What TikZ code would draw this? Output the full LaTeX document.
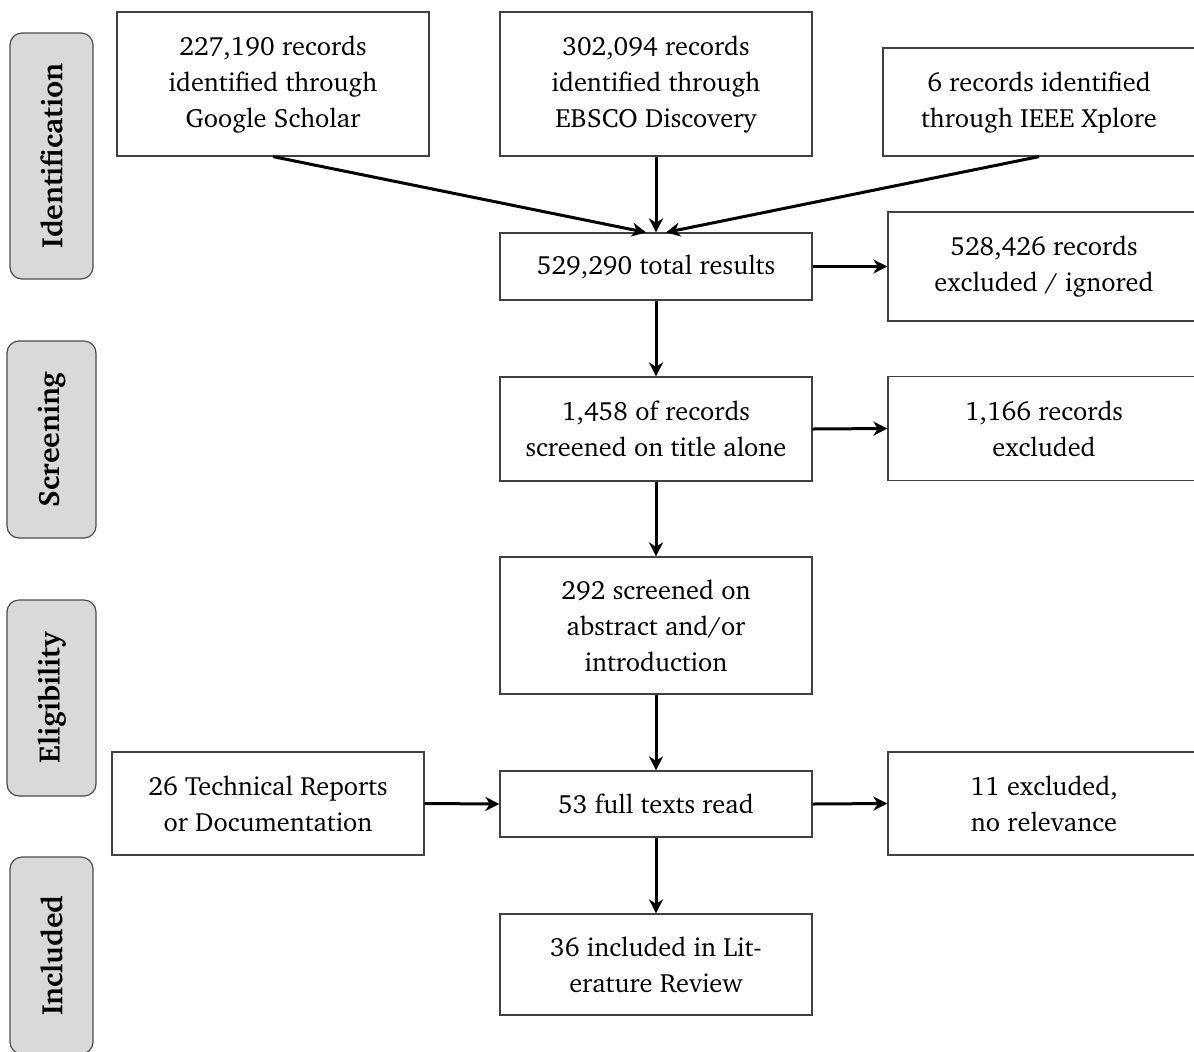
\documentclass[tikz,border=0pt]{standalone}
\usepackage[T1]{fontenc}
\renewcommand{\rmdefault}{bch}
\usetikzlibrary{arrows.meta}
\begin{document}
\begin{tikzpicture}[x=0.5pt,y=-0.5pt,
  every node/.style={font=\fontsize{13.2}{18}\selectfont},
  box/.style={draw=black!75, line width=0.6pt, fill=white, align=center,
    minimum width=156pt, inner sep=0pt},
  stage/.style={draw=black!70, line width=0.6pt, fill=black!15, rounded corners=6pt,
    rotate=90, font=\fontsize{14.8}{18}\selectfont\bfseries, inner sep=0pt},
  flow/.style={line width=1.5pt, -{Stealth[length=7pt,width=7pt,inset=2.2pt]}}]
\useasboundingbox (0,0) rectangle (1194,1051);

% stage labels
\node[stage, minimum width=123pt, minimum height=41.5pt] (sid) at (51.5,156) {Identification};
\node[stage, minimum width=98.5pt, minimum height=44.5pt] (ssc) at (51.5,439.5) {Screening};
\node[stage, minimum width=98pt, minimum height=44.5pt] (sel) at (51.5,698) {Eligibility};
\node[stage, minimum width=98.5pt, minimum height=41.5pt] (sin) at (51.5,955.5) {Included};

% flow boxes
\node[box, minimum height=72pt] (gs) at (273,84) {227,190 records\\identified through\\Google Scholar};
\node[box, minimum height=72pt] (eb) at (656,84) {302,094 records\\identified through\\EBSCO Discovery};
\node[box, minimum height=54pt] (ie) at (1039,102) {6 records identified\\through IEEE Xplore};
\node[box, minimum height=33.5pt] (tot) at (656,266.5) {529,290 total results};
\node[box, minimum height=54.5pt] (ex1) at (1044,266.5) {528,426 records\\excluded / ignored};
\node[box, minimum height=52pt] (scr) at (656,429) {1,458 of records\\screened on title alone};
\node[box, minimum height=52pt] (ex2) at (1044,428.5) {1,166 records\\excluded};
\node[box, minimum height=68.5pt] (abs) at (656,625.5) {292 screened on\\abstract and/or\\introduction};
\node[box, minimum height=33pt] (full) at (656,804) {53 full texts read};
\node[box, minimum height=51.5pt] (tech) at (268,803.5) {26 Technical Reports\\or Documentation};
\node[box, minimum height=51.5pt] (ex3) at (1044,803.5) {11 excluded,\\no relevance};
\node[box, minimum height=50.5pt] (inc) at (656,964.5) {36 included in Lit-\\erature Review};

% connectors
\draw[flow] (gs.south) -- ([xshift=-5pt]tot.north);
\draw[flow] (eb.south) -- (tot.north);
\draw[flow] (ie.south) -- ([xshift=5pt]tot.north);
\draw[flow] (tot.east) -- (ex1.west);
\draw[flow] (tot.south) -- (scr.north);
\draw[flow] (scr.east) -- (ex2.west);
\draw[flow] (scr.south) -- (abs.north);
\draw[flow] (abs.south) -- (full.north);
\draw[flow] (tech.east) -- (full.west);
\draw[flow] (full.east) -- (ex3.west);
\draw[flow] (full.south) -- (inc.north);
\end{tikzpicture}
\end{document}
